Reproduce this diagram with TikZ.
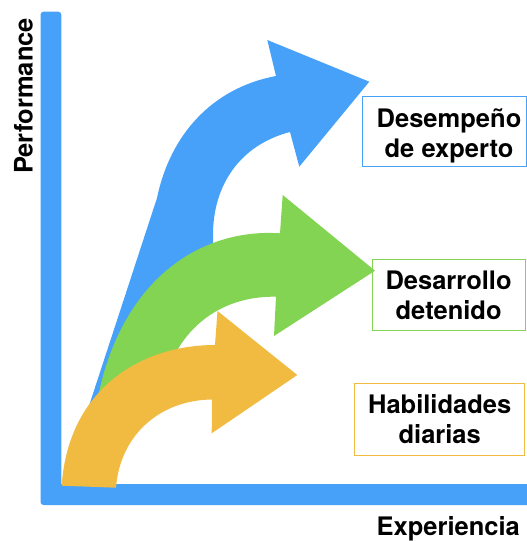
\documentclass[tikz,border=0pt]{standalone}
\usepackage{fontspec}
\setmainfont{TeX Gyre Heros}
\definecolor{axblue}{RGB}{72,161,248}
\definecolor{argreen}{RGB}{130,212,82}
\definecolor{arorange}{RGB}{240,187,64}
\begin{document}
\begin{tikzpicture}[x=1pt,y=-1pt,
  lbl/.style={font=\fontsize{25.5}{30}\selectfont\bfseries, inner sep=0pt, anchor=base, text=black},
  lbox/.style={line width=1.2pt}]
\useasboundingbox (0,0) rectangle (527,541);
% axes
\fill[axblue] (527,505) [rounded corners=3] -- (40.5,505) -- (40.5,11.7) -- (61.3,11.7) [sharp corners] -- (61.3,484) -- (527,484) -- cycle;
% blue arrow
\fill[axblue] (86,415) -- (157,198) .. controls (170,135) and (212,88) .. (276,76)
  -- (267.3,40) -- (369.3,81.7) -- (299.3,166.7) -- (290,132)
  .. controls (240,145) and (213,185) .. (213,235) -- (213,252) -- (160,330) -- (115,395) -- (100,415) -- cycle;
% green arrow
\fill[argreen] (97,402) .. controls (120,280) and (200,228) .. (280,233.3)
  -- (282.7,195) -- (375,270.7) -- (274,336) -- (276,296.7)
  .. controls (230,296) and (192,318) .. (172,360) -- (165,402) -- cycle;
% orange arrow
\fill[arorange] (61.7,485.7) .. controls (68,390) and (140,345) .. (215,345)
  -- (217.5,311) -- (297.3,375) -- (211.7,433.3) -- (212,399.5)
  .. controls (160,400) and (120,435) .. (116,487.7) -- cycle;
% label boxes
\draw[lbox, draw=axblue] (362.7,96.7) rectangle (526.4,166.7);
\draw[lbox, draw=argreen] (372.7,259.3) rectangle (525.3,330.7);
\draw[lbox, draw=arorange] (354.3,383.5) rectangle (524.4,455.7);
% label texts
\node[lbl] (t1a) at (449,127) {Desempeño};
\node[lbl] (t1b) at (449,157.5) {de experto};
\node[lbl] (t2a) at (448.6,289.3) {Desarrollo};
\node[lbl] (t2b) at (448.6,319.5) {detenido};
\node[lbl] (t3a) at (439.7,413.3) {Habilidades};
\node[lbl] (t3b) at (439.7,443.3) {diarias};
% axis titles
\node[lbl, rotate=90] (yl) at (32.7,96) {Performance};
\node[lbl] (xl) at (448.3,535.5) {Experiencia};
\end{tikzpicture}
\end{document}
